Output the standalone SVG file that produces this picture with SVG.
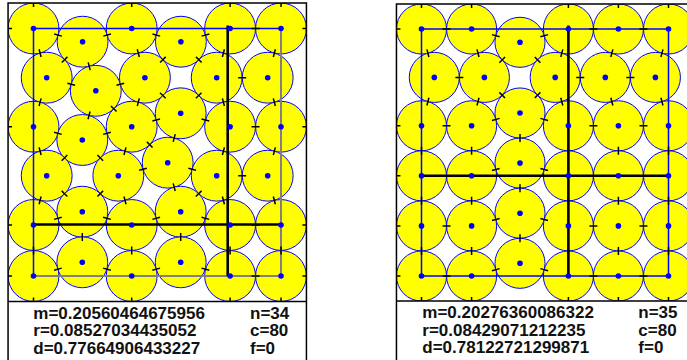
<svg xmlns="http://www.w3.org/2000/svg" width="687" height="360" viewBox="0 0 687 360">
<style>
.c{fill:#ffff00;stroke:#0000ff;stroke-width:1}
.d{fill:#0000ff}
.sq{fill:none;stroke:#0000ff;stroke-width:1.5}
.gr{fill:none;stroke:#808080;stroke-width:2}
.bk{fill:none;stroke:#000;stroke-width:2.6}
.tk{fill:none;stroke:#000;stroke-width:1.5}
.fr{fill:none;stroke:#000;stroke-width:1.5}
.t{font-family:"Liberation Sans",Arial,sans-serif;font-weight:bold;font-size:17px;fill:#111}
</style>
<defs>
<clipPath id="cp1"><rect x="8.06" y="3.06" width="298.38" height="298.38"/></clipPath>
<clipPath id="cp2"><rect x="396.46" y="3.96" width="297.08" height="297.08"/></clipPath>
</defs>
<rect width="687" height="360" fill="#fff"/>
<g id="panel1">
<g clip-path="url(#cp1)">
<g id="circles1">
<circle class="c" cx="33.5" cy="28.5" r="25.44"/><circle class="c" cx="82.6" cy="41.7" r="25.44"/><circle class="c" cx="131.7" cy="28.5" r="25.44"/><circle class="c" cx="180.9" cy="41.7" r="25.44"/><circle class="c" cx="230.1" cy="28.5" r="25.44"/><circle class="c" cx="281" cy="28.5" r="25.44"/>
<circle class="c" cx="46.7" cy="77.7" r="25.44"/><circle class="c" cx="95.8" cy="90.8" r="25.44"/><circle class="c" cx="144.9" cy="77.7" r="25.44"/><circle class="c" cx="216.7" cy="77.7" r="25.44"/><circle class="c" cx="267.7" cy="77.7" r="25.44"/>
<circle class="c" cx="33.5" cy="126.7" r="25.44"/><circle class="c" cx="82.3" cy="140" r="25.44"/><circle class="c" cx="131.7" cy="126.7" r="25.44"/><circle class="c" cx="180.7" cy="113.3" r="25.44"/><circle class="c" cx="230.1" cy="126.7" r="25.44"/><circle class="c" cx="281" cy="126.7" r="25.44"/>
<circle class="c" cx="46.7" cy="175.7" r="25.44"/><circle class="c" cx="118.3" cy="175.7" r="25.44"/><circle class="c" cx="167.7" cy="162.7" r="25.44"/><circle class="c" cx="216.7" cy="175.7" r="25.44"/><circle class="c" cx="267.7" cy="175.7" r="25.44"/>
<circle class="c" cx="82.3" cy="211.7" r="25.44"/><circle class="c" cx="180.7" cy="211.7" r="25.44"/>
<circle class="c" cx="33.5" cy="225" r="25.44"/><circle class="c" cx="131.7" cy="225" r="25.44"/><circle class="c" cx="230.1" cy="225" r="25.44"/><circle class="c" cx="281" cy="225" r="25.44"/>
<circle class="c" cx="82.3" cy="262.3" r="25.44"/><circle class="c" cx="180.7" cy="262.3" r="25.44"/>
<circle class="c" cx="33.5" cy="276" r="25.44"/><circle class="c" cx="131.7" cy="276" r="25.44"/><circle class="c" cx="230.1" cy="276" r="25.44"/><circle class="c" cx="281" cy="276" r="25.44"/>
</g>
<rect class="sq" x="33.5" y="28.5" width="247.5" height="247.5"/>
<path class="gr" d="M33.5,276H281V28.5"/>
<path class="bk" d="M227.7,25.5V276M33.5,224.5H282.5"/>
<path class="tk" d="M33.5,-0.94l0,8M131.7,-0.94l0,8M230.1,-0.94l0,8M281,-0.94l0,8M4.06,28.5l8,0M4.06,126.7l8,0M4.06,225l8,0M4.06,276l8,0M302.44,28.5l8,0M302.44,126.7l8,0M302.44,225l8,0M302.44,276l8,0M33.5,297.44l0,8M131.7,297.44l0,8M230.1,297.44l0,8M281,297.44l0,8
M54.2,34.08l7.7,2.04M103.3,36.12l7.7,-2.04M152.45,34.08l7.7,2.04M201.65,36.12l7.7,-2.04M251.55,28.5l8,0
M39.08,49.25l2.04,7.7M67.48,56.87l-5.66,5.66M88.18,62.4l2.04,7.7M137.28,49.25l2.04,7.7M165.73,56.87l-5.66,5.66M195.97,56.87l5.66,5.66M224.42,49.25l-2.04,7.7M275.37,49.25l-2.04,7.7
M67.4,83.23l7.7,2.04M116.5,85.27l7.7,-2.04M238.2,77.7l8,0
M41.12,98.35l-2.04,7.7M90.07,111.55l-2.04,7.7M110.92,105.92l5.66,5.66M139.32,98.35l-2.04,7.7M159.97,92.67l5.66,5.66M201.53,92.67l-5.66,5.66M222.38,98.35l2.04,7.7M273.33,98.35l2.04,7.7
M54.05,132.33l7.7,2.04M103.15,134.37l7.7,-2.04M152.35,121.02l7.7,-2.04M201.55,118.98l7.7,2.04M251.55,126.7l8,0
M39.08,147.35l2.04,7.7M67.33,155.02l-5.66,5.66M97.47,155.02l5.66,5.66M126.02,147.35l-2.04,7.7M146.87,141.87l5.66,5.66M175.22,134.15l-2.04,7.7M224.42,147.35l-2.04,7.7M275.37,147.35l-2.04,7.7
M139.15,170.22l7.7,-2.04M188.35,168.18l7.7,2.04M238.2,175.7l8,0
M61.67,190.87l5.66,5.66M103.13,190.87l-5.66,5.66M173.18,183.35l2.04,7.7M201.53,190.87l-5.66,5.66
M41.12,196.5l-2.04,7.7M123.98,196.5l2.04,7.7M222.38,196.5l2.04,7.7M273.33,196.5l2.04,7.7
M54.05,219.37l7.7,-2.04M103.15,217.33l7.7,2.04M152.35,219.37l7.7,-2.04M201.55,217.33l7.7,2.04
M251.55,225l8,0M82.3,233l0,8M180.7,233l0,8
M33.5,246.5l0,8M131.7,246.5l0,8M230.1,246.5l0,8M281,246.5l0,8
M54.05,270.17l7.7,-2.04M103.15,268.13l7.7,2.04M152.35,270.17l7.7,-2.04M201.55,268.13l7.7,2.04M251.55,276l8,0"/>
<g id="dots1" class="d">
<circle cx="33.5" cy="28.5" r="2.8"/><circle cx="82.6" cy="41.7" r="2.8"/><circle cx="131.7" cy="28.5" r="2.8"/><circle cx="180.9" cy="41.7" r="2.8"/><circle cx="230.1" cy="28.5" r="2.8"/><circle cx="281" cy="28.5" r="2.8"/>
<circle cx="46.7" cy="77.7" r="2.8"/><circle cx="95.8" cy="90.8" r="2.8"/><circle cx="144.9" cy="77.7" r="2.8"/><circle cx="216.7" cy="77.7" r="2.8"/><circle cx="267.7" cy="77.7" r="2.8"/>
<circle cx="33.5" cy="126.7" r="2.8"/><circle cx="82.3" cy="140" r="2.8"/><circle cx="131.7" cy="126.7" r="2.8"/><circle cx="180.7" cy="113.3" r="2.8"/><circle cx="230.1" cy="126.7" r="2.8"/><circle cx="281" cy="126.7" r="2.8"/>
<circle cx="46.7" cy="175.7" r="2.8"/><circle cx="118.3" cy="175.7" r="2.8"/><circle cx="167.7" cy="162.7" r="2.8"/><circle cx="216.7" cy="175.7" r="2.8"/><circle cx="267.7" cy="175.7" r="2.8"/>
<circle cx="82.3" cy="211.7" r="2.8"/><circle cx="180.7" cy="211.7" r="2.8"/>
<circle cx="33.5" cy="225" r="2.8"/><circle cx="131.7" cy="225" r="2.8"/><circle cx="230.1" cy="225" r="2.8"/><circle cx="281" cy="225" r="2.8"/>
<circle cx="82.3" cy="262.3" r="2.8"/><circle cx="180.7" cy="262.3" r="2.8"/>
<circle cx="33.5" cy="276" r="2.8"/><circle cx="131.7" cy="276" r="2.8"/><circle cx="230.1" cy="276" r="2.8"/><circle cx="281" cy="276" r="2.8"/>
</g>
</g>
<path class="fr" d="M8.06,370V3.06H306.44V370M8.06,301.44H306.44"/>
<text class="t" x="33.3" y="318.5">m=0.20560464675956</text>
<text class="t" x="33.3" y="336">r=0.08527034435052</text>
<text class="t" x="33.3" y="353.5">d=0.77664906433227</text>
<text class="t" x="250" y="318.5">n=34</text>
<text class="t" x="250" y="336">c=80</text>
<text class="t" x="250" y="353.5">f=0</text>
</g>
<g id="panel2">
<g clip-path="url(#cp2)">
<g id="circles2">
<circle class="c" cx="421.5" cy="29" r="25.04"/><circle class="c" cx="471.6" cy="29" r="25.04"/><circle class="c" cx="520" cy="42.3" r="25.04"/><circle class="c" cx="568.4" cy="29" r="25.04"/><circle class="c" cx="618.4" cy="29" r="25.04"/><circle class="c" cx="668.5" cy="29" r="25.04"/>
<circle class="c" cx="434.3" cy="77.4" r="25.04"/><circle class="c" cx="484.4" cy="77.4" r="25.04"/><circle class="c" cx="555.2" cy="77.4" r="25.04"/><circle class="c" cx="605.3" cy="77.4" r="25.04"/><circle class="c" cx="655.4" cy="77.4" r="25.04"/>
<circle class="c" cx="421.5" cy="125.8" r="25.04"/><circle class="c" cx="471.6" cy="125.8" r="25.04"/><circle class="c" cx="520" cy="113" r="25.04"/><circle class="c" cx="568.4" cy="125.8" r="25.04"/><circle class="c" cx="618.4" cy="125.8" r="25.04"/><circle class="c" cx="668.5" cy="125.8" r="25.04"/>
<circle class="c" cx="520" cy="163.1" r="25.04"/>
<circle class="c" cx="421.5" cy="175.8" r="25.04"/><circle class="c" cx="471.6" cy="175.8" r="25.04"/><circle class="c" cx="568.4" cy="175.8" r="25.04"/><circle class="c" cx="618.4" cy="175.8" r="25.04"/><circle class="c" cx="668.5" cy="175.8" r="25.04"/>
<circle class="c" cx="520" cy="213.2" r="25.04"/>
<circle class="c" cx="421.5" cy="225.9" r="25.04"/><circle class="c" cx="471.6" cy="225.9" r="25.04"/><circle class="c" cx="568.4" cy="225.9" r="25.04"/><circle class="c" cx="618.4" cy="225.9" r="25.04"/><circle class="c" cx="668.5" cy="225.9" r="25.04"/>
<circle class="c" cx="520" cy="263.3" r="25.04"/>
<circle class="c" cx="421.5" cy="276" r="25.04"/><circle class="c" cx="471.6" cy="276" r="25.04"/><circle class="c" cx="568.4" cy="276" r="25.04"/><circle class="c" cx="618.4" cy="276" r="25.04"/><circle class="c" cx="668.5" cy="276" r="25.04"/>
</g>
<rect class="sq" x="421.5" y="29" width="247" height="247"/>
<path class="bk" d="M568.4,25.5V276M421.5,175.8H670"/>
<path class="tk" d="M421.5,-0.04l0,8M471.6,-0.04l0,8M568.4,-0.04l0,8M618.4,-0.04l0,8M668.5,-0.04l0,8M392.46,29l8,0M392.46,125.8l8,0M392.46,175.8l8,0M392.46,225.9l8,0M392.46,276l8,0M689.54,29l8,0M689.54,125.8l8,0M689.54,175.8l8,0M689.54,225.9l8,0M689.54,276l8,0M421.5,297.04l0,8M471.6,297.04l0,8M568.4,297.04l0,8M618.4,297.04l0,8M668.5,297.04l0,8
M442.55,29l8,0M589.4,29l8,0M639.45,29l8,0M491.95,34.63l7.7,2.04M540.35,36.67l7.7,-2.04
M426.88,49.35l2.04,7.7M476.98,49.35l2.04,7.7M562.82,49.35l-2.04,7.7M612.87,49.35l-2.04,7.7M662.97,49.35l-2.04,7.7
M455.35,77.4l8,0M576.25,77.4l8,0M626.35,77.4l8,0
M499.37,62.68l5.66,-5.66M534.77,57.02l5.66,5.66M499.37,92.37l5.66,5.66M540.43,92.37l-5.66,5.66
M428.92,97.75l-2.04,7.7M479.02,97.75l-2.04,7.7M560.78,97.75l2.04,7.7M610.83,97.75l2.04,7.7M660.93,97.75l2.04,7.7
M442.55,125.8l8,0M589.4,125.8l8,0M639.45,125.8l8,0M491.95,120.42l7.7,-2.04M540.35,118.38l7.7,2.04M520,134.05l0,8
M421.5,146.8l0,8M471.6,146.8l0,8M568.4,146.8l0,8M618.4,146.8l0,8M668.5,146.8l0,8
M491.95,170.47l7.7,-2.04M540.35,168.43l7.7,2.04M442.55,175.8l8,0M589.4,175.8l8,0M639.45,175.8l8,0M520,184.15l0,8
M421.5,196.85l0,8M471.6,196.85l0,8M568.4,196.85l0,8M618.4,196.85l0,8M668.5,196.85l0,8
M491.95,220.57l7.7,-2.04M540.35,218.53l7.7,2.04M442.55,225.9l8,0M589.4,225.9l8,0M639.45,225.9l8,0M520,234.25l0,8
M421.5,246.95l0,8M471.6,246.95l0,8M568.4,246.95l0,8M618.4,246.95l0,8M668.5,246.95l0,8
M491.95,270.67l7.7,-2.04M540.35,268.63l7.7,2.04M442.55,276l8,0M589.4,276l8,0M639.45,276l8,0"/>
<g id="dots2" class="d">
<circle cx="421.5" cy="29" r="2.8"/><circle cx="471.6" cy="29" r="2.8"/><circle cx="520" cy="42.3" r="2.8"/><circle cx="568.4" cy="29" r="2.8"/><circle cx="618.4" cy="29" r="2.8"/><circle cx="668.5" cy="29" r="2.8"/>
<circle cx="434.3" cy="77.4" r="2.8"/><circle cx="484.4" cy="77.4" r="2.8"/><circle cx="555.2" cy="77.4" r="2.8"/><circle cx="605.3" cy="77.4" r="2.8"/><circle cx="655.4" cy="77.4" r="2.8"/>
<circle cx="421.5" cy="125.8" r="2.8"/><circle cx="471.6" cy="125.8" r="2.8"/><circle cx="520" cy="113" r="2.8"/><circle cx="568.4" cy="125.8" r="2.8"/><circle cx="618.4" cy="125.8" r="2.8"/><circle cx="668.5" cy="125.8" r="2.8"/>
<circle cx="520" cy="163.1" r="2.8"/>
<circle cx="421.5" cy="175.8" r="2.8"/><circle cx="471.6" cy="175.8" r="2.8"/><circle cx="568.4" cy="175.8" r="2.8"/><circle cx="618.4" cy="175.8" r="2.8"/><circle cx="668.5" cy="175.8" r="2.8"/>
<circle cx="520" cy="213.2" r="2.8"/>
<circle cx="421.5" cy="225.9" r="2.8"/><circle cx="471.6" cy="225.9" r="2.8"/><circle cx="568.4" cy="225.9" r="2.8"/><circle cx="618.4" cy="225.9" r="2.8"/><circle cx="668.5" cy="225.9" r="2.8"/>
<circle cx="520" cy="263.3" r="2.8"/>
<circle cx="421.5" cy="276" r="2.8"/><circle cx="471.6" cy="276" r="2.8"/><circle cx="568.4" cy="276" r="2.8"/><circle cx="618.4" cy="276" r="2.8"/><circle cx="668.5" cy="276" r="2.8"/>
</g>
</g>
<path class="fr" d="M396.46,370V3.96H693.54V370M396.46,301.04H693.54"/>
<text class="t" x="422.3" y="318.3">m=0.20276360086322</text>
<text class="t" x="422.3" y="335.7">r=0.08429071212235</text>
<text class="t" x="422.3" y="352.9">d=0.78122721299871</text>
<text class="t" x="638.3" y="318.3">n=35</text>
<text class="t" x="638.3" y="335.7">c=80</text>
<text class="t" x="638.3" y="352.9">f=0</text>
</g>
</svg>
